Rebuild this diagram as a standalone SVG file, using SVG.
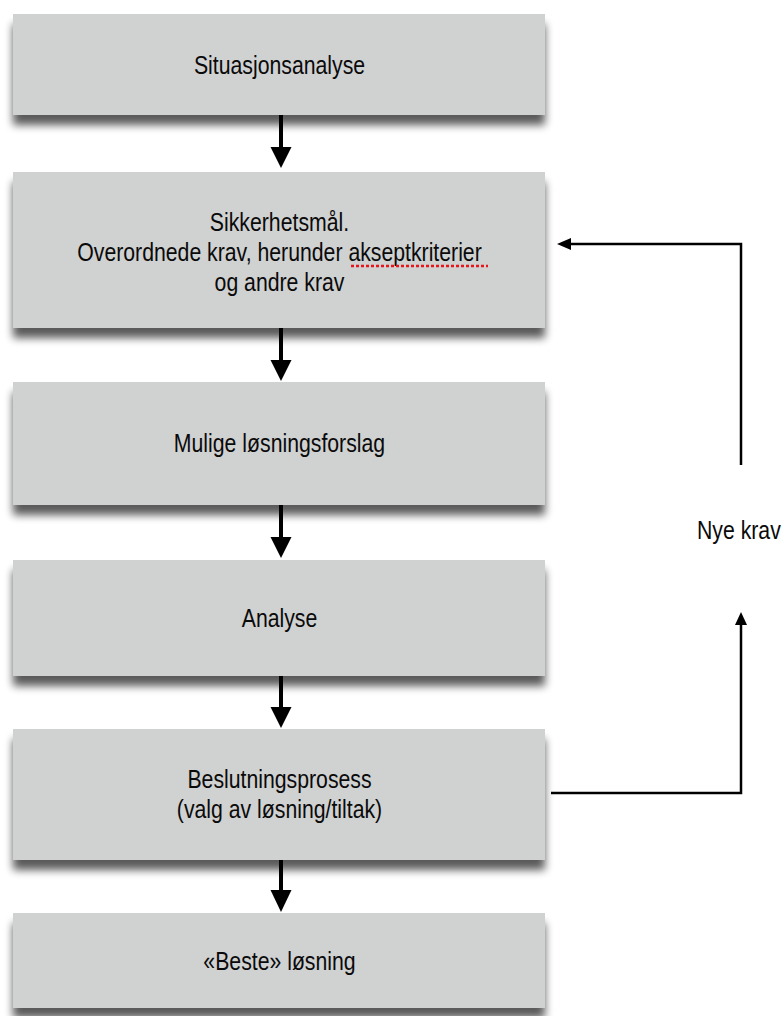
<svg xmlns="http://www.w3.org/2000/svg" width="784" height="1016" viewBox="0 0 784 1016">
<style>
.box{fill:#d0d1d1;filter:url(#sh)}
.t{font-family:"Liberation Sans",Arial,sans-serif;font-size:25px;fill:#0a0a0a;text-anchor:middle}
.tl{font-family:"Liberation Sans",Arial,sans-serif;font-size:25px;fill:#0a0a0a;text-anchor:start}
.main{stroke:#000;stroke-width:4;fill:none}
.fb{stroke:#000;stroke-width:2.5;fill:none}
.head{fill:#000}
</style>
<defs>
<filter id="sh" x="-5%" y="-20%" width="110%" height="160%">
<feGaussianBlur in="SourceAlpha" stdDeviation="4.5"/>
<feOffset dy="10" result="b"/>
<feComponentTransfer in="b" result="c"><feFuncA type="linear" slope="0.65"/></feComponentTransfer>
<feMerge><feMergeNode in="c"/><feMergeNode in="SourceGraphic"/></feMerge>
</filter>
</defs>
<rect width="784" height="1016" fill="#fff"/>

<g id="node-situasjonsanalyse">
<rect class="box" x="13" y="14" width="532" height="101"/>
<text class="t" transform="translate(279.5 74) scale(0.85 1)">Situasjonsanalyse</text>
</g>
<g id="node-sikkerhetsmal">
<rect class="box" x="13" y="172" width="532" height="156"/>
<text class="t" transform="translate(279.5 231) scale(0.85 1)">Sikkerhetsmål.</text>
<text class="t" transform="translate(279.5 261) scale(0.85 1)">Overordnede krav, herunder akseptkriterier</text>
<text class="t" transform="translate(279.5 291) scale(0.85 1)">og andre krav</text>
<line x1="351" y1="266" x2="488" y2="266" stroke="#e8161b" stroke-width="2.5" stroke-dasharray="3 2"/>
</g>
<g id="node-mulige">
<rect class="box" x="13" y="382" width="532" height="123"/>
<text class="t" transform="translate(279.5 452) scale(0.85 1)">Mulige løsningsforslag</text>
</g>
<g id="node-analyse">
<rect class="box" x="13" y="560" width="532" height="116"/>
<text class="t" transform="translate(279.5 627) scale(0.85 1)">Analyse</text>
</g>
<g id="node-beslutning">
<rect class="box" x="13" y="729" width="532" height="131"/>
<text class="t" transform="translate(279.5 788) scale(0.85 1)">Beslutningsprosess</text>
<text class="t" transform="translate(279.5 818) scale(0.85 1)">(valg av løsning/tiltak)</text>
</g>
<g id="node-beste">
<rect class="box" x="13" y="913" width="532" height="95"/>
<text class="t" transform="translate(279.5 970) scale(0.85 1)">«Beste» løsning</text>
</g>

<g id="connectors">
<line class="main" x1="281" y1="115" x2="281" y2="149"/>
<polygon class="head" points="270.5,147 291.5,147 281,168"/>
<line class="main" x1="281" y1="328" x2="281" y2="362"/>
<polygon class="head" points="270.5,360 291.5,360 281,381"/>
<line class="main" x1="281" y1="505" x2="281" y2="539"/>
<polygon class="head" points="270.5,537 291.5,537 281,558"/>
<line class="main" x1="281" y1="676" x2="281" y2="709"/>
<polygon class="head" points="270.5,707 291.5,707 281,728"/>
<line class="main" x1="281" y1="860" x2="281" y2="892"/>
<polygon class="head" points="270.5,890 291.5,890 281,912"/>

<polyline class="fb" points="551,793 741,793 741,624"/>
<polygon class="head" points="741,612 735,625 747,625"/>
<polyline class="fb" points="741,465 741,244 569,244"/>
<polygon class="head" points="557,244 571,238 571,250"/>
<text class="tl" transform="translate(697 539) scale(0.85 1)">Nye krav</text>
</g>
</svg>
